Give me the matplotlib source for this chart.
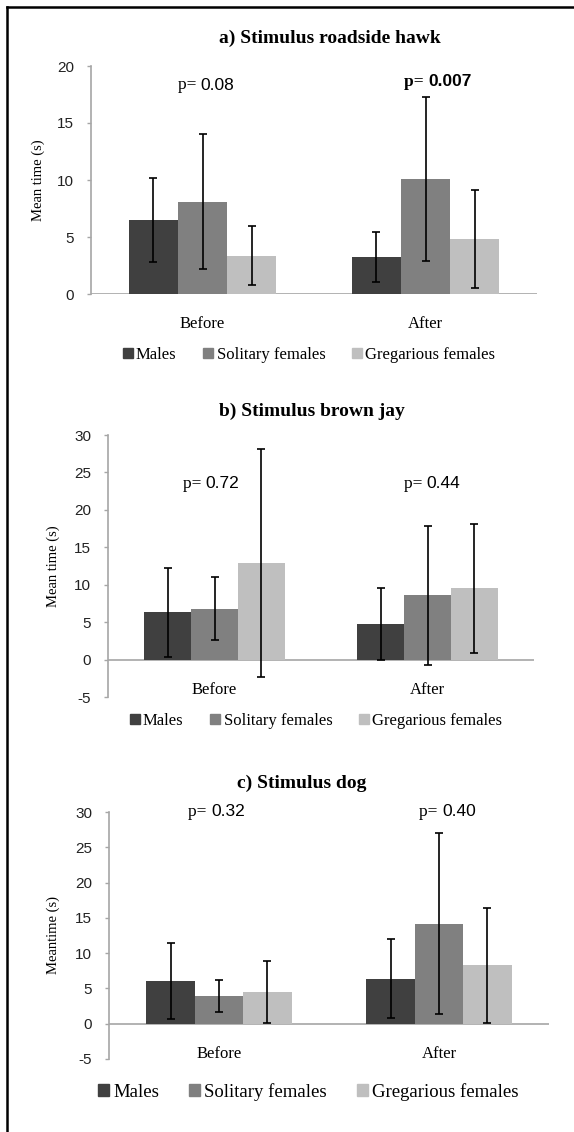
import matplotlib
matplotlib.use("Agg")
import matplotlib.pyplot as plt
from matplotlib.lines import Line2D
from matplotlib.patches import Patch
import numpy as np

# ---- data ----
periods = ["Before", "After"]
groups = ["Males", "Solitary females", "Gregarious females"]
colors = ["#404040", "#808080", "#bfbfbf"]

hawk_mean = [[6.5, 3.25], [8.1, 10.1], [3.35, 4.8]]
hawk_err = [[3.65, 2.2], [5.95, 7.2], [2.6, 4.3]]
jay_mean = [[6.3, 4.7], [6.8, 8.6], [12.9, 9.5]]
jay_err = [[5.9, 4.8], [4.2, 9.3], [15.2, 8.6]]
dog_mean = [[6.1, 6.4], [3.95, 14.2], [4.45, 8.25]]
dog_err = [[5.4, 5.6], [2.3, 12.8], [4.4, 8.2]]

titles = ["a) Stimulus roadside hawk", "b) Stimulus brown jay", "c) Stimulus dog"]
pvals = [["0.08", "0.007"], ["0.72", "0.44"], ["0.32", "0.40"]]
pbold = [[False, True], [False, False], [False, False]]
ylabels = ["Mean time (s)", "Mean time (s)", "Meantime (s)"]

W, H = 574, 1132
fig = plt.figure(figsize=(W / 100, H / 100), dpi=100)

SERIF = "Liberation Serif"
SANS = "Liberation Sans"
AXC = "#a6a6a6"
PX = 72 / 100  # points per pixel


def fx(px):
    return px / W


def fy(py):
    return 1 - py / H


panels = [
    dict(mean=hawk_mean, err=hawk_err, ylim=(0, 20), yt=[0, 5, 10, 15, 20],
         x0=91, x1=537, ytop=66, ybot=294, title_xy=(330, 38), ylab_x=38,
         p_y=[18.3, 18.6], p_dx=[-2, 3], leg_xy=(309, 355), legsize=12,
         titlesize=14, catsize=12),
    dict(mean=jay_mean, err=jay_err, ylim=(-5, 30), yt=[-5, 0, 5, 10, 15, 20, 25, 30],
         x0=108, x1=534, ytop=435, ybot=697, title_xy=(312, 411), ylab_x=53,
         p_y=[23.5, 23.5], p_dx=[-9, -1], leg_xy=(316, 721), legsize=12,
         titlesize=14, catsize=12),
    dict(mean=dog_mean, err=dog_err, ylim=(-5, 30), yt=[-5, 0, 5, 10, 15, 20, 25, 30],
         x0=109, x1=549, ytop=812, ybot=1059, title_xy=(302, 783), ylab_x=53,
         p_y=[30.0, 30.0], p_dx=[-8, 3], leg_xy=(308, 1092), legsize=13.5,
         titlesize=14, catsize=12),
]

width = 0.22
x = np.arange(len(periods))

for i, P in enumerate(panels):
    ax = fig.add_axes([fx(P["x0"]), fy(P["ybot"]), fx(P["x1"] - P["x0"]),
                       (P["ybot"] - P["ytop"]) / H])
    for g in range(3):
        ax.bar(x + (g - 1) * width, P["mean"][g], width, color=colors[g],
               yerr=P["err"][g], error_kw=dict(ecolor="black", elinewidth=1.2,
                                               capsize=3, capthick=1.2),
               label=groups[g], zorder=2)
    ax.set_xlim(-0.5, 1.5)
    ax.set_ylim(*P["ylim"])
    ax.set_yticks(P["yt"])
    ax.set_yticklabels([str(v) for v in P["yt"]], fontfamily=SANS, fontsize=11,
                       color="#222222")
    ax.tick_params(axis="y", direction="out", length=3, color=AXC, width=1, pad=9)
    ax.set_xticks([])
    for s in ["top", "right", "bottom"]:
        ax.spines[s].set_visible(False)
    ax.spines["left"].set_color(AXC)
    ax.spines["left"].set_linewidth(1.2)
    ax.axhline(0, color=AXC, lw=1.2, zorder=1)
    ax.set_facecolor("none")
    for k, lab in enumerate(periods):
        ax.annotate(lab, (x[k], 0), xytext=(0, -16), textcoords="offset points",
                    ha="center", va="top", fontfamily=SERIF, fontsize=P["catsize"])
        # p values
        w = "bold" if pbold[i][k] else "normal"
        dx = P["p_dx"][k] * PX
        ax.annotate("p= ", (x[k], P["p_y"][k]), xytext=(dx, 0),
                    textcoords="offset points", ha="right", va="center",
                    fontfamily=SERIF, fontsize=12.5, fontweight=w)
        ax.annotate(pvals[i][k], (x[k], P["p_y"][k]), xytext=(dx, 0),
                    textcoords="offset points", ha="left", va="center",
                    fontfamily=SANS, fontsize=12.5, fontweight=w)
    fig.text(fx(P["title_xy"][0]), fy(P["title_xy"][1]), titles[i], ha="center",
             va="center", fontfamily=SERIF, fontweight="bold",
             fontsize=P["titlesize"])
    fig.text(fx(P["ylab_x"]), fy((P["ytop"] + P["ybot"]) / 2),
             ylabels[i], rotation=90, ha="center", va="center",
             fontfamily=SERIF, fontsize=10.5)
    handles = [Patch(color=c) for c in colors]
    fig.legend(handles, groups, loc="center",
               bbox_to_anchor=(fx(P["leg_xy"][0]), fy(P["leg_xy"][1])),
               ncol=3, frameon=False, handlelength=0.6, handleheight=0.6,
               handletextpad=0.2, columnspacing=1.6,
               prop=dict(family=SERIF, size=P["legsize"]))

# outer frame (left and top edges visible)
fig.add_artist(Line2D([fx(6.5), fx(6.5)], [0, fy(6.5)], color="black", lw=1.8))
fig.add_artist(Line2D([fx(6.5), 1], [fy(6.5), fy(6.5)], color="black", lw=1.8))

fig.savefig("out.png", dpi=100)
